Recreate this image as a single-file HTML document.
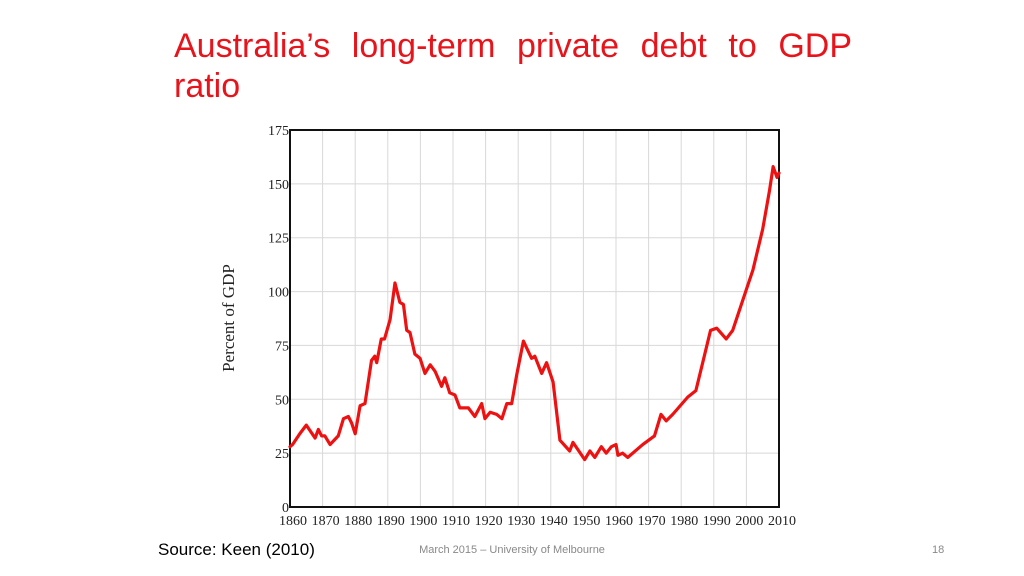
<!DOCTYPE html>
<html><head><meta charset="utf-8"><style>
body{margin:0;width:1024px;height:576px;background:#fff;overflow:hidden;position:relative;font-family:"Liberation Sans",sans-serif}
#t1{position:absolute;left:174px;top:26px;width:678px;font-size:34px;color:#e8141b;text-align:justify;text-align-last:justify;white-space:nowrap;line-height:40px}
#t2{position:absolute;left:174px;top:66px;font-size:34px;color:#e8141b;line-height:40px}
#src{position:absolute;left:158px;top:540px;font-size:17px;color:#000}
#foot{position:absolute;left:0;width:1024px;top:544px;text-align:center;font-size:11px;color:#898989}
#pg{position:absolute;left:932px;top:544px;font-size:11px;color:#898989}
svg{position:absolute;left:0;top:0}
</style></head><body>
<div id="t1">Australia’s long-term private debt to GDP</div>
<div id="t2">ratio</div>
<svg id="ch" width="1024" height="576"></svg>
<div id="src">Source: Keen (2010)</div>
<div id="foot">March 2015 – University of Melbourne</div>
<div id="pg">18</div>
<script>
const years=[1860,1860.8,1863,1865,1867.7,1868.7,1869.7,1870.7,1872.3,1874.8,1876.4,1877.9,1878.9,1880,1881.5,1883,1885,1886,1886.6,1888,1889,1890.7,1892.2,1893.7,1894.8,1895.8,1896.8,1898.3,1899.9,1901.4,1903,1904.5,1906.5,1907.5,1909,1910.6,1912.1,1914.7,1916.7,1918.8,1919.8,1921.4,1923.4,1925,1926.5,1928,1929.5,1931.6,1934.1,1935.1,1937.2,1938.7,1940.7,1942.8,1945.8,1946.8,1950.4,1952,1953.5,1955.5,1957,1958.6,1960,1960.6,1962,1963.6,1968.2,1971.8,1973.8,1975.4,1977.4,1982,1984.5,1986.6,1989,1990.9,1993.8,1995.8,2000,2002,2005,2007.1,2008.2,2009.4,2010];
const values=[28,29,34,38,32,36,33,33,29,33,41,42,39,34,47,48,68,70,67,78,78,87,104,95,94,82,81,71,69,62,66,63,56,60,53,52,46,46,42,48,41,44,43,41,48,48,61,77,69,70,62,67,58,31,26,30,22,26,23,28,25,28,29,24,25,23,29,33,43,40,43,51,54,67,82,83,78,82,101,110,129,147,158,153,155];
const yTicks=[0,25,50,75,100,125,150,175];
const xTicks=[1860,1870,1880,1890,1900,1910,1920,1930,1940,1950,1960,1970,1980,1990,2000,2010];
const L=290,R=779,T=130,B=507;
const sx=y=>L+(y-1860)/150*(R-L), sy=v=>B-v/175*(B-T);
const svg=document.getElementById('ch'),NS='http://www.w3.org/2000/svg';
function mk(tag,a){const e=document.createElementNS(NS,tag);for(const k in a)e.setAttribute(k,a[k]);svg.appendChild(e);return e;}
yTicks.forEach(v=>{
 const g=mk('line',{x1:L,x2:R,y1:sy(v),y2:sy(v),stroke:'#d8d8d8','stroke-width':1});
 
 
 const t=mk('text',{x:L-1,y:sy(v)+5,'text-anchor':'end','font-size':14,'font-family':'Liberation Serif,serif',fill:'#222'});
 t.textContent=v;
 
 
});
xTicks.forEach(y=>{
 const g=mk('line',{x1:sx(y),x2:sx(y),y1:T,y2:B,stroke:'#d8d8d8','stroke-width':1});
 
 
 const t=mk('text',{x:sx(y)+3,y:B+18,'text-anchor':'middle','font-size':14,'font-family':'Liberation Serif,serif',fill:'#222'});
 t.textContent=y;
 
 
});
const fr=mk('rect',{x:L,y:T,width:R-L,height:B-T,fill:'none',stroke:'#111','stroke-width':2});


const ln=mk('polyline',{points:years.map((y,i)=>sx(y)+','+sy(values[i])).join(' '),fill:'none',stroke:'#ee1111','stroke-width':3.2,'stroke-linejoin':'round','stroke-linecap':'round'});


const yl=mk('text',{x:0,y:0,transform:'translate(234,318) rotate(-90)','text-anchor':'middle','font-size':17,'font-family':'Liberation Serif,serif',fill:'#222'});
yl.textContent='Percent of GDP';


</script>
</body></html>
